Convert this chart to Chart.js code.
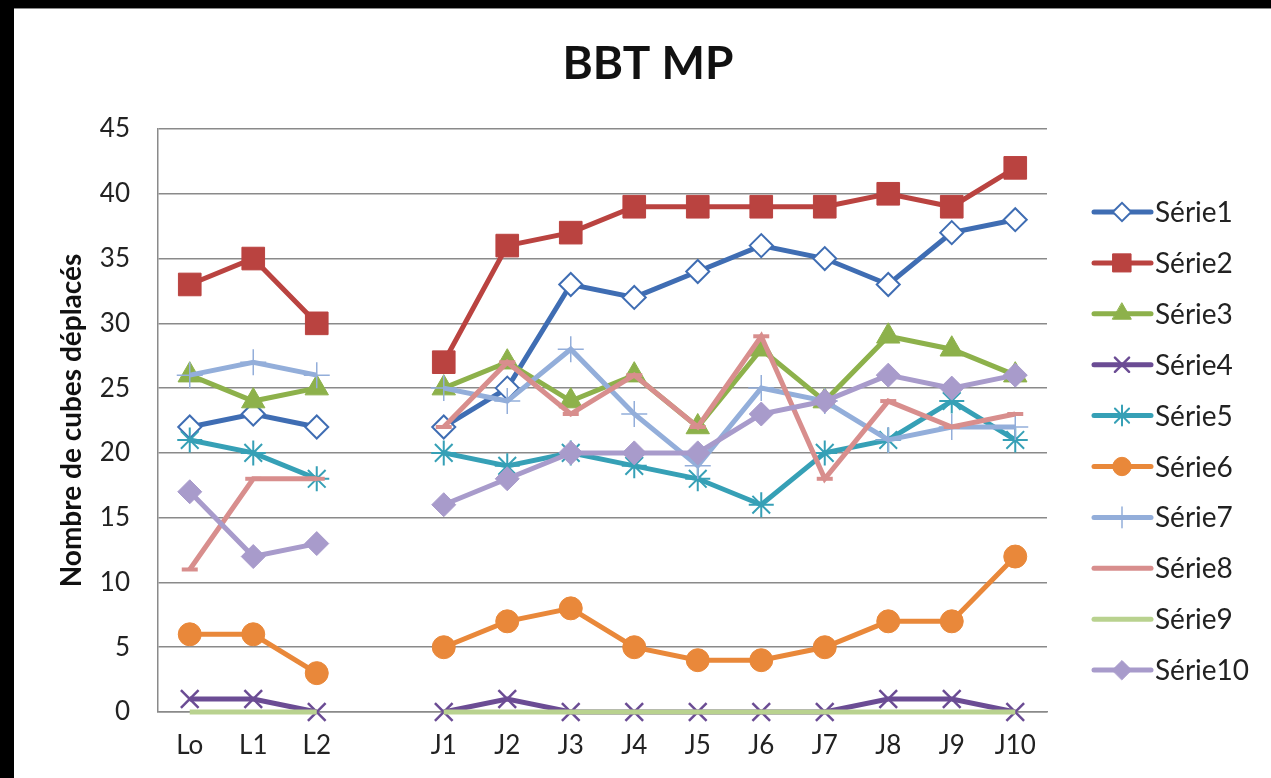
<!DOCTYPE html>
<html>
<head>
<meta charset="utf-8">
<script src="https://cdn.jsdelivr.net/npm/chart.js@4.4.1/dist/chart.umd.min.js"></script>
<style>
  html, body { margin: 0; padding: 0; background: #000; overflow: hidden; }
  #cadre { position: absolute; left: 14px; top: 8px; width: 1257px; height: 770px; background: #fff; border-top: 1px solid #8a8a8a; }
  #graphe { position: absolute; left: 0; top: 0; display: block; }
</style>
</head>
<body>
<div id="cadre"><canvas id="graphe" width="1257" height="769"></canvas></div>
<script>
const jours = ['Lo', 'L1', 'L2', '', 'J1', 'J2', 'J3', 'J4', 'J5', 'J6', 'J7', 'J8', 'J9', 'J10']
const nomsSeries = ['Série1', 'Série2', 'Série3', 'Série4', 'Série5', 'Série6', 'Série7', 'Série8', 'Série9', 'Série10']

const serie1 = [22, 23, 22, null, 22, 25, 33, 32, 34, 36, 35, 33, 37, 38]
const serie2 = [33, 35, 30, null, 27, 36, 37, 39, 39, 39, 39, 40, 39, 42]
const serie3 = [26, 24, 25, null, 25, 27, 24, 26, 22, 28, 24, 29, 28, 26]
const serie4 = [1, 1, 0, null, 0, 1, 0, 0, 0, 0, 0, 1, 1, 0]
const serie5 = [21, 20, 18, null, 20, 19, 20, 19, 18, 16, 20, 21, 24, 21]
const serie6 = [6, 6, 3, null, 5, 7, 8, 5, 4, 4, 5, 7, 7, 12]
const serie7 = [26, 27, 26, null, 25, 24, 28, 23, 19, 25, 24, 21, 22, 22]
const serie8 = [11, 18, 18, null, 22, 27, 23, 26, 22, 29, 18, 24, 22, 23]
const serie9 = [0, 0, 0, null, 0, 0, 0, 0, 0, 0, 0, 0, 0, 0]
const serie10 = [17, 12, 13, null, 16, 18, 20, 20, 20, 23, 24, 26, 25, 26]

const valeurs = [serie1, serie2, serie3, serie4, serie5, serie6, serie7, serie8, serie9, serie10]
const couleurs = ['#3F6DB3', '#BA4340', '#8DB14B', '#6B4C94', '#36A0B6', '#E9883A', '#93AEDA', '#D88E8D', '#B9D28F', '#A89BCB']
const styles = [
  { pointStyle: 'rectRot', radius: 11.5, fond: '#fff', bord: 2 },
  { pointStyle: 'rect', radius: 16, fond: null, bord: 1 },
  { pointStyle: 'triangle', radius: 13.5, fond: null, bord: 1 },
  { pointStyle: 'crossRot', radius: 12.5, fond: null, bord: 2.5 },
  { pointStyle: 'star', radius: 12.5, fond: null, bord: 2 },
  { pointStyle: 'circle', radius: 11.5, fond: null, bord: 1 },
  { pointStyle: 'cross', radius: 13, fond: null, bord: 1.5 },
  { pointStyle: 'line', radius: 8, fond: null, bord: 4 },
  { pointStyle: 'line', radius: 0, fond: null, bord: 0 },
  { pointStyle: 'rectRot', radius: 12, fond: null, bord: 1 }
]

Chart.defaults.font.family = 'Lato, "Open Sans", sans-serif'
Chart.defaults.color = '#222'

const datasets = valeurs.map((v, i) => ({
  label: nomsSeries[i],
  data: v,
  borderColor: couleurs[i],
  backgroundColor: styles[i].fond || couleurs[i],
  borderWidth: 5,
  pointStyle: styles[i].pointStyle,
  pointRadius: styles[i].radius,
  pointBorderWidth: styles[i].bord,
  pointBorderColor: couleurs[i],
  pointBackgroundColor: styles[i].fond || couleurs[i],
  tension: 0,
  spanGaps: false,
  clip: false,
  order: 9 - i
}))

// titre centré sur tout le graphique + légende façon Excel (trait + marqueur)
const habillage = {
  id: 'habillage',
  afterDraw(chart) {
    const ctx = chart.ctx
    ctx.save()
    ctx.fillStyle = '#111'
    ctx.font = 'bold 46px Lato, sans-serif'
    ctx.textAlign = 'center'
    ctx.textBaseline = 'middle'
    ctx.fillText('BBT MP', 634, 55)

    nomsSeries.forEach((nom, i) => {
      const y = 203 + i * 50.9
      ctx.strokeStyle = couleurs[i]
      ctx.lineWidth = 5
      ctx.lineCap = 'round'
      ctx.beginPath()
      ctx.moveTo(1080, y)
      ctx.lineTo(1137, y)
      ctx.stroke()
      const s = styles[i]
      if (s.radius > 0 && s.pointStyle !== 'line') {
        ctx.fillStyle = s.fond || couleurs[i]
        ctx.strokeStyle = couleurs[i]
        ctx.lineWidth = s.bord
        Chart.helpers.drawPoint(ctx, { pointStyle: s.pointStyle, radius: s.radius * 0.8, rotation: 0, borderWidth: s.bord }, 1108, y)
      }
      ctx.fillStyle = '#222'
      ctx.font = '28px Lato, sans-serif'
      ctx.textAlign = 'left'
      ctx.textBaseline = 'middle'
      ctx.fillText(nom, 1141, y + 1)
    })
    ctx.restore()
  }
}

new Chart(document.getElementById('graphe'), {
  type: 'line',
  data: { labels: jours, datasets },
  plugins: [habillage],
  options: {
    responsive: false,
    animation: false,
    layout: { padding: { left: 0, right: 224, top: 120, bottom: 18 } },
    plugins: {
      legend: { display: false },
      tooltip: { enabled: false },
      title: { display: false }
    },
    scales: {
      x: {
        offset: true,
        afterFit: (s) => { s.height = 48 },
        grid: { display: false, drawTicks: false },
        border: { display: true, color: '#8a8a8a', width: 1.5 },
        ticks: { font: { size: 26 }, color: '#222', padding: 18, maxRotation: 0, autoSkip: false }
      },
      y: {
        min: 0,
        max: 45,
        afterFit: (s) => { s.width = 144 },
        grid: { color: '#8a8a8a', lineWidth: 1.5, drawTicks: false },
        border: { display: true, color: '#8a8a8a', width: 1.5 },
        ticks: { stepSize: 5, font: { size: 26 }, color: '#222', padding: 28 },
        title: {
          display: true,
          text: 'Nombre de cubes déplacés',
          color: '#111',
          font: { size: 28, weight: 'bold' },
          padding: { top: 41, bottom: 0 }
        }
      }
    }
  }
})
</script>
</body>
</html>
